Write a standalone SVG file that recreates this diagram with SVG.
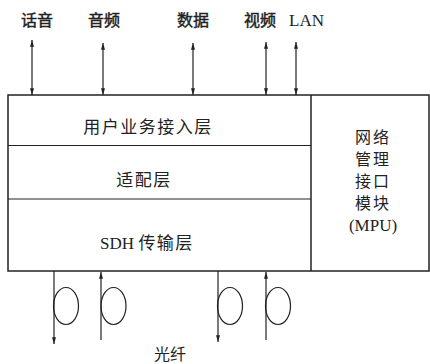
<svg xmlns="http://www.w3.org/2000/svg" width="430" height="364" viewBox="0 0 430 364">
<style>
.box{fill:none;stroke:#222;stroke-width:1.5}
.ln{fill:none;stroke:#222;stroke-width:1.2}
.cn{font-family:"Noto Sans CJK SC","Liberation Sans",sans-serif;fill:#222}
.lbl{font-size:16px;text-anchor:middle;stroke:#222;stroke-width:0.45}
.lay{font-size:17px;letter-spacing:1.5px;text-anchor:middle}
.mpu{font-size:16px;letter-spacing:2px;text-anchor:middle}
.lat{font-family:"Liberation Serif",serif;letter-spacing:0}
</style>
<defs>
<marker id="ah" viewBox="0 0 10 6" refX="10" refY="3" markerWidth="7" markerHeight="4" orient="auto-start-reverse" markerUnits="userSpaceOnUse">
<path d="M0,0 L10,3 L0,6 Z" fill="#222"/>
</marker>
</defs>
<g id="labels">
<text class="cn lbl" x="37" y="25.5">话音</text>
<text class="cn lbl" x="104" y="25.5">音频</text>
<text class="cn lbl" x="193" y="25.5">数据</text>
<text class="cn lbl" x="260" y="25.5">视频</text>
<text class="lat" x="306.5" y="25.5" font-size="17" text-anchor="middle" fill="#222">LAN</text>
</g>
<g id="node-main">
<rect class="box" x="8" y="95" width="421" height="176"/>
<line class="box" x1="311" y1="95" x2="311" y2="271"/>
<line class="ln" x1="8" y1="145.5" x2="311" y2="145.5"/>
<line class="ln" x1="8" y1="199" x2="311" y2="199"/>
</g>
<g id="node-access"><text class="cn lay" x="148" y="133">用户业务接入层</text></g>
<g id="node-adapt"><text class="cn lay" x="144" y="186">适配层</text></g>
<g id="node-sdh"><text class="cn lay" x="147" y="249"><tspan class="lat" font-size="17">SDH </tspan>传输层</text></g>
<g id="node-mpu">
<text class="cn mpu" x="373" y="143">网络</text>
<text class="cn mpu" x="373" y="165">管理</text>
<text class="cn mpu" x="373" y="187">接口</text>
<text class="cn mpu" x="373" y="209">模块</text>
<text class="lat" x="373" y="231" font-size="17" text-anchor="middle" fill="#222">(MPU)</text>
</g>
<g id="connectors">
<line class="ln" x1="32" y1="40" x2="32" y2="95" marker-start="url(#ah)" marker-end="url(#ah)"/>
<line class="ln" x1="103" y1="43" x2="103" y2="95" marker-start="url(#ah)" marker-end="url(#ah)"/>
<line class="ln" x1="193" y1="43" x2="193" y2="95" marker-start="url(#ah)" marker-end="url(#ah)"/>
<line class="ln" x1="266" y1="42" x2="266" y2="95" marker-start="url(#ah)" marker-end="url(#ah)"/>
<line class="ln" x1="296" y1="42" x2="296" y2="95" marker-start="url(#ah)" marker-end="url(#ah)"/>
<line class="ln" x1="54" y1="271" x2="54" y2="344" marker-end="url(#ah)"/>
<line class="ln" x1="101" y1="340" x2="101" y2="272" marker-end="url(#ah)"/>
<line class="ln" x1="218" y1="271" x2="218" y2="342" marker-end="url(#ah)"/>
<line class="ln" x1="266" y1="340" x2="266" y2="272" marker-end="url(#ah)"/>
<ellipse class="ln" cx="66" cy="306" rx="12.5" ry="18.5"/>
<ellipse class="ln" cx="113.5" cy="306" rx="12.5" ry="18.5"/>
<ellipse class="ln" cx="230" cy="306" rx="12.5" ry="18.5"/>
<ellipse class="ln" cx="278" cy="306" rx="12.5" ry="18.5"/>
</g>
<g id="fiber-label"><text class="cn" x="170" y="360" font-size="16" text-anchor="middle">光纤</text></g>
</svg>
